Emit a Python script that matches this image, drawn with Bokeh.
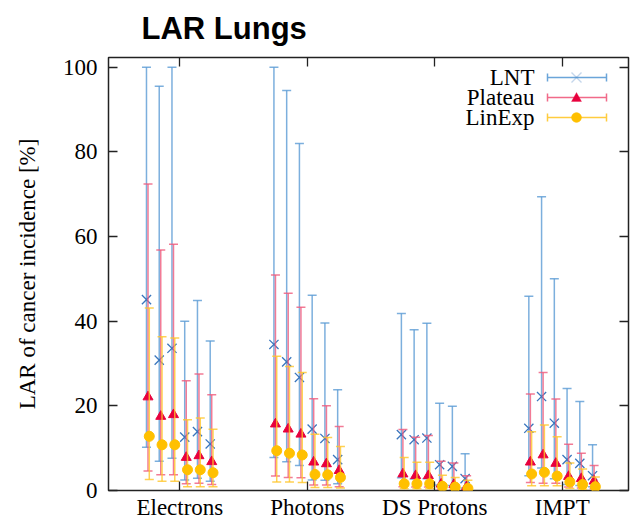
import numpy as np
from bokeh.plotting import figure
from bokeh.models import (ColumnDataSource, Range1d, LinearAxis, FixedTicker,
                          PolyAnnotation, Label, CustomLabelingPolicy)
from bokeh.embed import file_html
from bokeh.resources import INLINE

# ---------------------------------------------------------------------------
# Lifetime attributable risk (LAR) of lung cancer incidence, in percent.
# Four treatment modalities, six plan configurations each; three risk models.
# Each model: central value plus lower / upper bound of the uncertainty band.
# ---------------------------------------------------------------------------
categories = ["Electrons", "Photons", "DS Protons", "IMPT"]
series_names = ["LNT", "Plateau", "LinExp"]

lnt_mid = [45.1, 30.8, 33.6, 12.6, 13.9, 11.0,
           34.5, 30.4, 26.7, 14.5, 12.3, 7.3,
           13.2, 12.0, 12.4, 6.1, 5.7, 2.8,
           14.7, 22.2, 15.9, 7.3, 6.4, 3.5]
lnt_lo = [10.2, 6.9, 7.6, 2.5, 2.9, 2.2,
          7.8, 6.8, 5.9, 2.5, 2.4, 1.6,
          3.0, 2.7, 2.8, 1.3, 1.2, 0.6,
          3.5, 5.3, 2.8, 1.4, 1.2, 0.9]
lnt_hi = [100.0, 95.5, 100.0, 40.0, 44.9, 35.3,
          100.0, 94.5, 82.0, 46.1, 39.6, 23.8,
          41.8, 38.0, 39.5, 20.6, 19.9, 8.7,
          45.9, 69.4, 50.0, 24.1, 21.0, 10.8]

plateau_mid = [22.1, 17.5, 17.9, 7.8, 8.2, 6.8,
               15.7, 14.5, 13.3, 6.7, 6.3, 4.7,
               3.9, 3.5, 3.5, 1.5, 1.4, 0.9,
               6.7, 8.4, 6.4, 3.3, 2.8, 2.2]
plateau_lo = [4.6, 3.7, 3.7, 1.6, 1.7, 1.4,
              3.4, 3.1, 3.0, 1.3, 1.3, 0.9,
              0.9, 0.8, 0.8, 0.3, 0.3, 0.2,
              1.9, 1.7, 1.7, 0.8, 0.6, 0.4]
plateau_hi = [72.4, 56.8, 58.2, 25.9, 27.5, 22.6,
              50.9, 46.6, 43.3, 21.7, 20.0, 15.1,
              14.4, 12.6, 13.0, 6.9, 6.5, 3.5,
              22.8, 27.9, 21.6, 10.9, 8.8, 5.9]

linexp_mid = [12.8, 10.8, 10.8, 4.9, 4.9, 4.2,
              9.4, 8.8, 8.4, 3.8, 3.7, 3.1,
              1.6, 1.6, 1.6, 1.0, 0.8, 0.5,
              3.9, 4.3, 3.4, 2.0, 1.4, 0.9]
linexp_lo = [2.6, 2.2, 2.2, 0.9, 0.9, 0.9,
             2.0, 2.0, 1.9, 0.7, 0.7, 0.6,
             0.4, 0.4, 0.4, 0.2, 0.2, 0.1,
             1.1, 1.1, 1.1, 0.5, 0.3, 0.2]
linexp_hi = [43.1, 36.3, 36.0, 16.7, 17.1, 14.5,
             31.7, 29.3, 27.9, 13.3, 12.5, 10.4,
             7.8, 6.7, 6.7, 3.6, 3.1, 2.4,
             13.9, 15.5, 12.7, 6.5, 5.1, 3.2]

y_ticks = [0, 20, 40, 60, 80, 100]

# ---------------------------------------------------------------------------
SERIF = "Liberation Serif"
FRAME = "#222222"

n_conf = 6
conf_offsets = np.linspace(-0.25, 0.25, n_conf)
cat_pos = np.arange(1, len(categories) + 1)
base_x = (cat_pos[:, None] + conf_offsets[None, :]).ravel()

p = figure(width=640, height=522, output_backend="svg", toolbar_location=None,
           x_range=Range1d(0.44, 4.52), y_range=Range1d(0, 102.3),
           x_axis_type=None, y_axis_type=None,
           min_border_left=108, min_border_right=12,
           min_border_top=57, min_border_bottom=31)
p.background_fill_color = "white"
p.border_fill_color = "white"
p.outline_line_color = FRAME
p.outline_line_width = 1.5
p.outline_line_alpha = 1.0

p.title.text = "LAR Lungs"
p.title.text_font = "Liberation Sans"
p.title.text_font_style = "bold"
p.title.text_font_size = "31px"
p.title.text_color = "black"
p.title.align = "left"
p.title.vertical_align = "top"
p.title.offset = 33
p.title.standoff = 20

# mirrored tick marks on the top and right edges carry no labels
no_labels = CustomLabelingPolicy(code="for (const i of indices) { indices.unset(i) }\nreturn indices")


def style_axis(ax, show_labels=True):
    ax.axis_line_color = None
    ax.major_tick_in = 9
    ax.major_tick_out = 0
    ax.major_tick_line_color = FRAME
    ax.major_tick_line_width = 1.3
    ax.minor_tick_line_color = None
    ax.major_label_text_font = SERIF
    ax.major_label_text_font_size = "23px"
    ax.major_label_text_color = "black"
    if not show_labels:
        ax.major_label_text_font_size = "0px"
        ax.major_label_standoff = 0
        ax.major_label_policy = no_labels


y_ticker = FixedTicker(ticks=y_ticks, minor_ticks=[])
x_ticker = FixedTicker(ticks=list(cat_pos), minor_ticks=[])

left = LinearAxis(ticker=y_ticker, axis_label="LAR of cancer incidence [%]")
style_axis(left)
left.major_label_standoff = 11
left.axis_label_text_font = SERIF
left.axis_label_text_font_size = "23px"
left.axis_label_text_font_style = "normal"
left.axis_label_text_color = "black"
left.axis_label_standoff = 20
p.add_layout(left, "left")

right = LinearAxis(ticker=y_ticker)
style_axis(right, show_labels=False)
p.add_layout(right, "right")

bottom = LinearAxis(ticker=x_ticker,
                    major_label_overrides={int(i): c for i, c in zip(cat_pos, categories)})
style_axis(bottom)
bottom.major_label_standoff = 4
p.add_layout(bottom, "below")

top = LinearAxis(ticker=x_ticker)
style_axis(top, show_labels=False)
p.add_layout(top, "above")

# ---------------------------------------------------------------------------
# Error bars and central values, one model after another
styles = [
    dict(mid=lnt_mid, lo=lnt_lo, hi=lnt_hi, shift=-0.012,
         bar="#5b9bd5", marker="x", mcolor="#3a76bd", size=13),
    dict(mid=plateau_mid, lo=plateau_lo, hi=plateau_hi, shift=0.0,
         bar="#ef5a7c", marker="triangle", mcolor="#e8003d", size=10),
    dict(mid=linexp_mid, lo=linexp_lo, hi=linexp_hi, shift=0.01,
         bar="#ffc629", marker="circle", mcolor="#ffc000", size=10),
]

for st in styles:
    src = ColumnDataSource(dict(x=base_x + st["shift"], mid=st["mid"],
                                lo=st["lo"], hi=st["hi"]))
    p.segment(x0="x", y0="lo", x1="x", y1="hi", source=src,
              line_color=st["bar"], line_width=1.5, line_alpha=0.8)
    for end in ("lo", "hi"):
        p.scatter(x="x", y=end, source=src, marker="dash", size=9,
                  line_color=st["bar"], line_width=1.5, line_alpha=0.8)
    if st["marker"] == "x":
        p.scatter(x="x", y="mid", source=src, marker="x", size=st["size"],
                  line_color=st["mcolor"], line_width=1.3)
    else:
        p.scatter(x="x", y="mid", source=src, marker=st["marker"], size=st["size"],
                  fill_color=st["mcolor"], line_color=st["mcolor"], line_width=1)

# ---------------------------------------------------------------------------
# Key in the upper right corner: name, then an error-bar sample with marker
key_text_x = 426
key_x0, key_x1, key_mid = 439, 498, 468
key_rows = [413, 393, 373]
cap = 4

for name, st, ky in zip(series_names, styles, key_rows):
    p.add_layout(Label(x=key_text_x, y=ky, x_units="screen", y_units="screen",
                       text=name, text_align="right", text_baseline="middle",
                       text_font=SERIF, text_font_size="23px", text_color="black"))
    p.add_layout(PolyAnnotation(
        xs=[key_x0, key_x0, key_x0, key_x0, key_x1, key_x1, key_x1, key_x1],
        ys=[ky, ky + cap, ky - cap, ky, ky, ky + cap, ky - cap, ky],
        xs_units="screen", ys_units="screen",
        fill_alpha=0, line_color=st["bar"], line_width=1.5, line_alpha=0.9))
    m = key_mid
    if st["marker"] == "x":
        p.add_layout(PolyAnnotation(
            xs=[m - 5, m + 5, m, m - 5, m + 5, m],
            ys=[ky - 5, ky + 5, ky, ky + 5, ky - 5, ky],
            xs_units="screen", ys_units="screen",
            fill_alpha=0, line_color=st["mcolor"], line_width=1.4))
    elif st["marker"] == "triangle":
        p.add_layout(PolyAnnotation(
            xs=[m - 5, m + 5, m], ys=[ky - 4, ky - 4, ky + 5],
            xs_units="screen", ys_units="screen",
            fill_color=st["mcolor"], fill_alpha=1, line_color=st["mcolor"], line_width=1))
    else:
        t = np.linspace(0, 2 * np.pi, 24, endpoint=False)
        p.add_layout(PolyAnnotation(
            xs=list(m + 5 * np.cos(t)), ys=list(ky + 5 * np.sin(t)),
            xs_units="screen", ys_units="screen",
            fill_color=st["mcolor"], fill_alpha=1, line_color=st["mcolor"], line_width=1))

open("out.html", "w").write(file_html(p, INLINE))
